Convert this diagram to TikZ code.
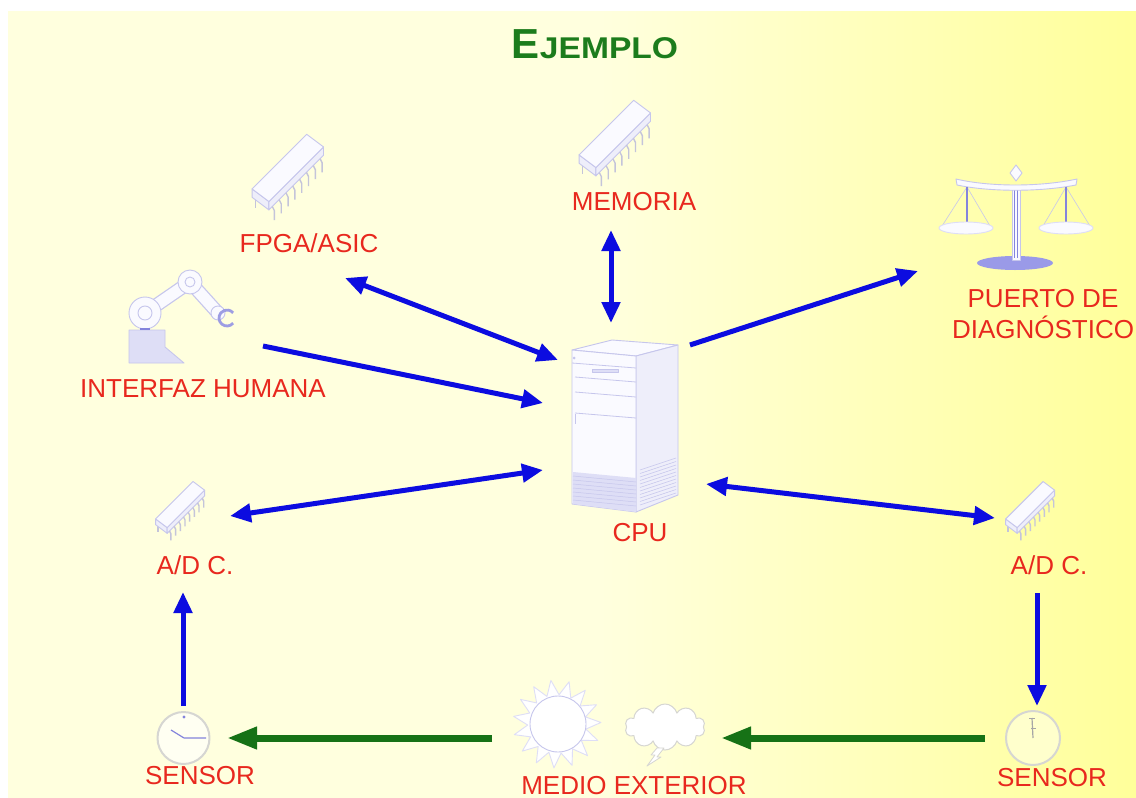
\documentclass[tikz,border=0pt]{standalone}
\usepackage{fontspec}
\setmainfont{Liberation Sans}
\usetikzlibrary{arrows.meta,shapes.symbols,shapes.geometric}

\definecolor{bgA}{HTML}{FFFFDE}
\definecolor{bgB}{HTML}{FFFF9A}
\definecolor{lbl}{HTML}{E8281E}
\definecolor{arrblue}{HTML}{0C0CE0}
\definecolor{arrgreen}{HTML}{167216}
\definecolor{ttl}{HTML}{1C7C1C}
\definecolor{icon}{HTML}{C6C6EC}
\definecolor{iconfill}{HTML}{FAFAFF}
\definecolor{iconside}{HTML}{EEEEFA}
\definecolor{iconshade}{HTML}{DEDEF6}
\definecolor{pinc}{HTML}{C4C4DA}
\definecolor{clockrim}{HTML}{D6D6D2}
\definecolor{basecol}{HTML}{9A9AE8}
\definecolor{rodcol}{HTML}{8484DC}

\tikzset{
  lab/.style={text=lbl, font=\fontsize{26}{31}\selectfont, inner sep=0pt},
  bluehead/.tip={Triangle[length=21pt,width=18pt]},
  greenhead/.tip={Triangle[length=30pt,width=21pt]},
  oneway/.style={draw=arrblue, line width=5pt, -bluehead},
  twoway/.style={draw=arrblue, line width=5pt, bluehead-bluehead},
  greenway/.style={draw=arrgreen, line width=7pt, -greenhead},
  outline/.style={draw=icon, line width=0.9pt, fill=iconfill},
  chip/.pic={
    % pins on the far side
    \foreach \i in {1,...,8}{
      \pgfmathsetmacro\t{(\i-0.5)/8}
      \draw[pinc, line width=1.4pt] (-38+52*\t, 26-52*\t) -- ++(0,13);
    }
    % end face, side face and top face of the package
    \draw[outline, fill=iconside] (-38,18) -- (-22,30) -- (-22,38) -- (-38,26) -- cycle;
    \draw[outline, fill=iconside] (-22,30) -- (30,-22) -- (30,-14) -- (-22,38) -- cycle;
    \draw[outline] (-38,18) -- (14,-34) -- (30,-22) -- (-22,30) -- cycle;
    % pins on the near side
    \foreach \i in {1,...,8}{
      \pgfmathsetmacro\t{(\i-0.5)/8}
      \draw[pinc, line width=1.4pt] (-22+52*\t, 38-52*\t) -- ++(2,4) -- ++(0,9);
    }
  }
}

\begin{document}
\begin{tikzpicture}[x=1pt, y=-1pt, line join=round]
\useasboundingbox (0,0) rectangle (1136,798);
\fill[white] (0,0) rectangle (1136,798);

% backdrop
\fill[bgA] (8,11) rectangle (600,798);
\shade[left color=bgA, right color=bgB] (600,11) rectangle (1136,798);

% title
\node[text=ttl, anchor=base, inner sep=0pt] (title) at (595,58)
  {\bfseries\fontsize{42}{42}\selectfont E\scalebox{1.12}[1]{\fontsize{30}{30}\selectfont JEMPLO}};

% ---------- chips ----------
\pic[scale=1.05] (fpga) at (292,170) {chip};
\pic[scale=1.05] (mem) at (619,136) {chip};
\pic[scale=0.72] (adcl) at (183,506) {chip};
\pic[scale=0.72] (adcr) at (1033,506) {chip};

% ---------- balance ----------
\fill[basecol] (1015,263) ellipse [x radius=38, y radius=7];
\draw[outline] (1012,186) rectangle (1020,260);
\draw[rodcol, line width=1pt] (1014.5,190) -- (1014.5,258) (1017.5,190) -- (1017.5,258);
\draw[outline] (956,179) .. controls (990,187) and (1040,187) .. (1077,179)
  -- (1076,185) .. controls (1040,192) and (990,192) .. (957,185) -- cycle;
\draw[outline] (1016,165) -- (1022,173) -- (1016,181) -- (1010,173) -- cycle;
\draw[icon, line width=0.6pt] (967,187) -- (942,226) (967,187) -- (990,226);
\draw[icon, line width=0.6pt] (1066,187) -- (1043,226) (1066,187) -- (1090,226);
\draw[rodcol, line width=1.3pt] (967,187) -- (967,224);
\draw[rodcol, line width=1.3pt] (1066,187) -- (1066,224);
\draw[outline, draw=iconshade] (966,228) ellipse [x radius=27, y radius=6];
\draw[outline, draw=iconshade] (1066,228) ellipse [x radius=27, y radius=6];

% ---------- robot arm ----------
\draw[outline, fill=iconshade] (129,330) -- (165,330) -- (165,347) -- (184,363) -- (129,363) -- cycle;
\draw[icon, line width=14pt, line cap=round] (145,313) -- (190,282) -- (218,313);
\draw[iconfill, line width=11.5pt, line cap=round] (145,313) -- (190,282) -- (218,313);
\draw[outline] (145,313) circle [radius=16];
\draw[outline] (145,313) circle [radius=7];
\draw[outline] (190,282) circle [radius=12];
\draw[outline] (190,282) circle [radius=5];
\draw[outline] (218,313) circle [radius=7];
\draw[rodcol!80, line width=2.8pt] (227,318) ++(40:8) arc [start angle=40, end angle=320, radius=8];
\draw[rodcol, line width=2pt] (140,329) -- (150,329);

% ---------- computer tower ----------
\draw[outline] (572,350) -- (612,340) -- (678,345) -- (636,356) -- cycle;
\draw[outline, fill=iconside] (636,356) -- (678,345) -- (678,495) -- (636,512) -- cycle;
\draw[outline] (572,350) -- (636,356) -- (636,512) -- (572,504) -- cycle;
\draw[icon, line width=0.8pt] (572,363) -- (636,368) (575,377) -- (636,382)
  (575,392) -- (636,397) (575,413) -- (636,418);
\fill[iconshade] (592,369) rectangle (618,372);
\draw[icon] (592,369) rectangle (618,372);
\fill[iconshade] (573,472) -- (636,478) -- (636,512) -- (573,504) -- cycle;
\foreach \k in {0,...,6}
  \draw[icon, line width=0.5pt] (573,476+4*\k) -- (636,482+4*\k);
\foreach \k in {0,...,10}
  \draw[icon, line width=0.5pt] (640,470+3.5*\k) -- (676,458+3.5*\k);
\fill[icon] (574,358) circle [radius=1.5];
\draw[icon] (575,414) -- (575,424);

% ---------- sensors (clock faces) ----------
\draw[clockrim, line width=2pt, fill=white!60!bgA] (183.5,738) circle [radius=26];
\fill[rodcol] (184,717) circle [radius=1.6];
\draw[rodcol, line width=1.2pt] (184,738) -- (171,730) (184,738) -- (206,738);
\draw[clockrim, line width=2pt, fill=white!50!bgB] (1033,738) circle [radius=27];
\draw[gray!70, line width=1.2pt] (1032,718) -- (1033,738);
\draw[gray!70, line width=0.8pt] (1029,718) -- (1035,718) (1031,728) -- (1036,728);

% ---------- outside world: sun and cloud ----------
\node[star, star points=15, star point ratio=1.5, minimum size=88pt, inner sep=0pt,
      draw=iconshade, fill=white, line width=0.9pt, rotate=8] (sunrays) at (557,724) {};
\node[circle, minimum size=56pt, inner sep=0pt, draw=icon, fill=white, line width=0.9pt]
  (sun) at (558,724) {};
\node[cloud, cloud puffs=10, aspect=1.7, minimum width=80pt, minimum height=46pt,
      inner sep=0pt, draw=clockrim, fill=white, line width=1pt] (cloud) at (665,727) {};
\draw[clockrim, fill=white, line width=0.8pt] (664,748) -- (657,757) -- (661,757)
  -- (647,766) -- (655,755) -- (651,755) -- (657,748) -- cycle;

% ---------- labels ----------
\node[lab] (fpgaL) at (309,243) {FPGA/ASIC};
\node[lab] (memL) at (634,202) {MEMORIA};
\node[lab, align=center] (diagL) at (1043,314) {PUERTO DE\\DIAGNÓSTICO};
\node[lab] (humL) at (203,389) {INTERFAZ HUMANA};
\node[lab] (cpuL) at (640,533) {CPU};
\node[lab] (adclL) at (195,565) {A/D C.};
\node[lab] (adcrL) at (1049,565) {A/D C.};
\node[lab] (senlL) at (200,776) {SENSOR};
\node[lab] (senrL) at (1052,778) {SENSOR};
\node[lab, anchor=base] (medL) at (634,794) {MEDIO EXTERIOR};

% ---------- connector ends ----------
\coordinate (fpgaEnd) at (345,278);
\coordinate (cpuFpga) at (558,360);
\coordinate (memEnd) at (611,230);
\coordinate (cpuMem) at (611,323);
\coordinate (cpuDiag) at (690,345);
\coordinate (diagEnd) at (918,271);
\coordinate (humEnd) at (263,346);
\coordinate (cpuHum) at (543,403);
\coordinate (adclEnd) at (230,516);
\coordinate (cpuAdcl) at (543,470);
\coordinate (cpuAdcr) at (706,484);
\coordinate (adcrEnd) at (995,518);
\coordinate (adcrOut) at (1037,593);
\coordinate (senrIn) at (1037,706);
\coordinate (senlOut) at (183,706);
\coordinate (adclIn) at (183,592);
\coordinate (senrOut) at (985,738);
\coordinate (medIn) at (721,738);
\coordinate (medOut) at (492,738);
\coordinate (senlIn) at (227,738);

% ---------- connectors ----------
\draw[twoway] (fpgaEnd) -- (cpuFpga);
\draw[twoway] (memEnd) -- (cpuMem);
\draw[oneway] (cpuDiag) -- (diagEnd);
\draw[oneway] (humEnd) -- (cpuHum);
\draw[twoway] (adclEnd) -- (cpuAdcl);
\draw[twoway] (cpuAdcr) -- (adcrEnd);
\draw[oneway] (adcrOut) -- (senrIn);
\draw[oneway] (senlOut) -- (adclIn);
\draw[greenway] (senrOut) -- (medIn);
\draw[greenway] (medOut) -- (senlIn);
\end{tikzpicture}
\end{document}
